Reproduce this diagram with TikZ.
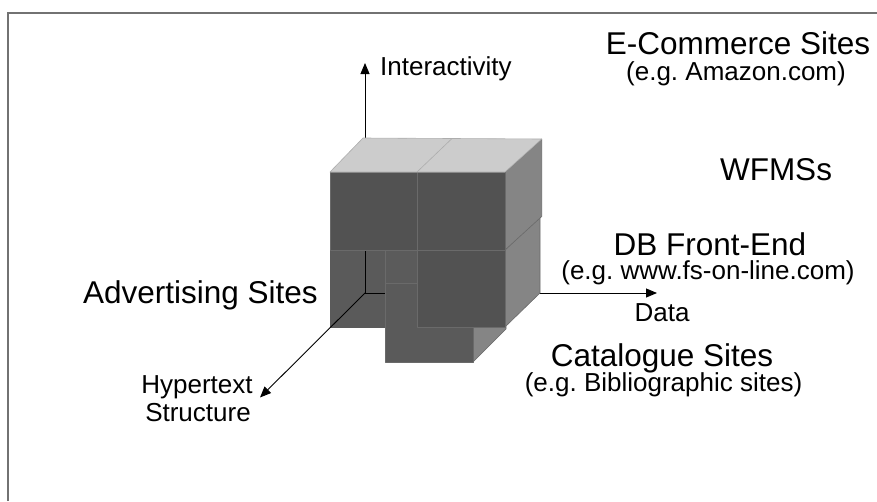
\documentclass[tikz,border=0pt]{standalone}
\usepackage{fontspec}
\setmainfont{Liberation Sans}
\usetikzlibrary{arrows.meta}
\frenchspacing
\definecolor{topface}{HTML}{CCCCCC}
\definecolor{frontface}{HTML}{525252}
\definecolor{sideface}{HTML}{858585}
\definecolor{innerface}{HTML}{5A5A5A}
\definecolor{stepface}{HTML}{5B5B5B}
\definecolor{edgeline}{HTML}{6A6A6A}
\definecolor{framegray}{HTML}{727272}

\begin{document}
\begin{tikzpicture}[x=1pt,y=-1pt,
  face/.style={draw=edgeline, line width=0.6pt, line join=round},
  axisline/.style={draw=black, line width=0.9pt, -{Triangle[length=11pt,width=9pt]}},
  title/.style={font=\fontsize{31.5}{36}\selectfont, anchor=base, inner sep=0pt},
  subtitle/.style={font=\fontsize{26}{30}\selectfont, anchor=base, inner sep=0pt}]

\useasboundingbox (0,0) rectangle (877,501);

% frame
\draw[framegray, line width=1.3pt] (8,501) -- (8,13) -- (877,13);

% axis origin and tips
\coordinate (O) at (365,293);
\coordinate (ztip) at (365,63);
\coordinate (xtip) at (657,293);
\coordinate (ytip) at (260,397.5);

% open corner at the lower left of the cube
\fill[innerface] (330,250) rectangle (385,328);

% axes
\draw[axisline] (O) -- (ztip);
\draw[axisline] (O) -- (xtip);
\draw[axisline] (O) -- (ytip);

% stepped inner face
\filldraw[face, fill=stepface] (385,250) rectangle (417,283);

% protruding lower block
\filldraw[face, fill=sideface] (473,283) -- (506,250) -- (506,329) -- (473,362) -- cycle;
\filldraw[face, fill=innerface] (385,283) rectangle (473,362);

% lower right block
\filldraw[face, fill=sideface] (505,250) -- (540,216.5) -- (540,293) -- (505,327) -- cycle;
\filldraw[face, fill=frontface] (417,250) rectangle (505,327);

% upper blocks
\filldraw[face, fill=sideface] (505,172) -- (541.7,139) -- (541.7,216.5) -- (505,250) -- cycle;
\filldraw[face, fill=frontface] (330,172) rectangle (417,250);
\filldraw[face, fill=frontface] (417,172) rectangle (505,250);

% top faces
\filldraw[face, draw=topface!85!black, fill=topface] (330,172) -- (363,138) -- (541.7,139) -- (505,172) -- cycle;
\draw[topface!85!black, line width=0.6pt] (417,172) -- (452,138.5);

% labels
\node[subtitle, anchor=base west] (inter) at (380,75) {Interactivity};
\node[subtitle] (data) at (662,321.5) {Data};
\node[subtitle] (hyp1) at (197,393.5) {Hypertext};
\node[subtitle] (hyp2) at (198,421) {Structure};

\node[title] (ecom) at (738,54) {E-Commerce Sites};
\node[subtitle] (ecomsub) at (736,80) {(e.g. Amazon.com)};
\node[title] (wfms) at (776,180) {WFMSs};
\node[title] (dbfe) at (710,255) {DB Front-End};
\node[subtitle] (dbfesub) at (708,279.5) {(e.g. www.fs-on-line.com)};
\node[title] (adv) at (200.5,303.3) {Advertising Sites};
\node[title] (cat) at (662,366) {Catalogue Sites};
\node[subtitle] (catsub) at (663.5,391) {(e.g. Bibliographic sites)};

\end{tikzpicture}
\end{document}
